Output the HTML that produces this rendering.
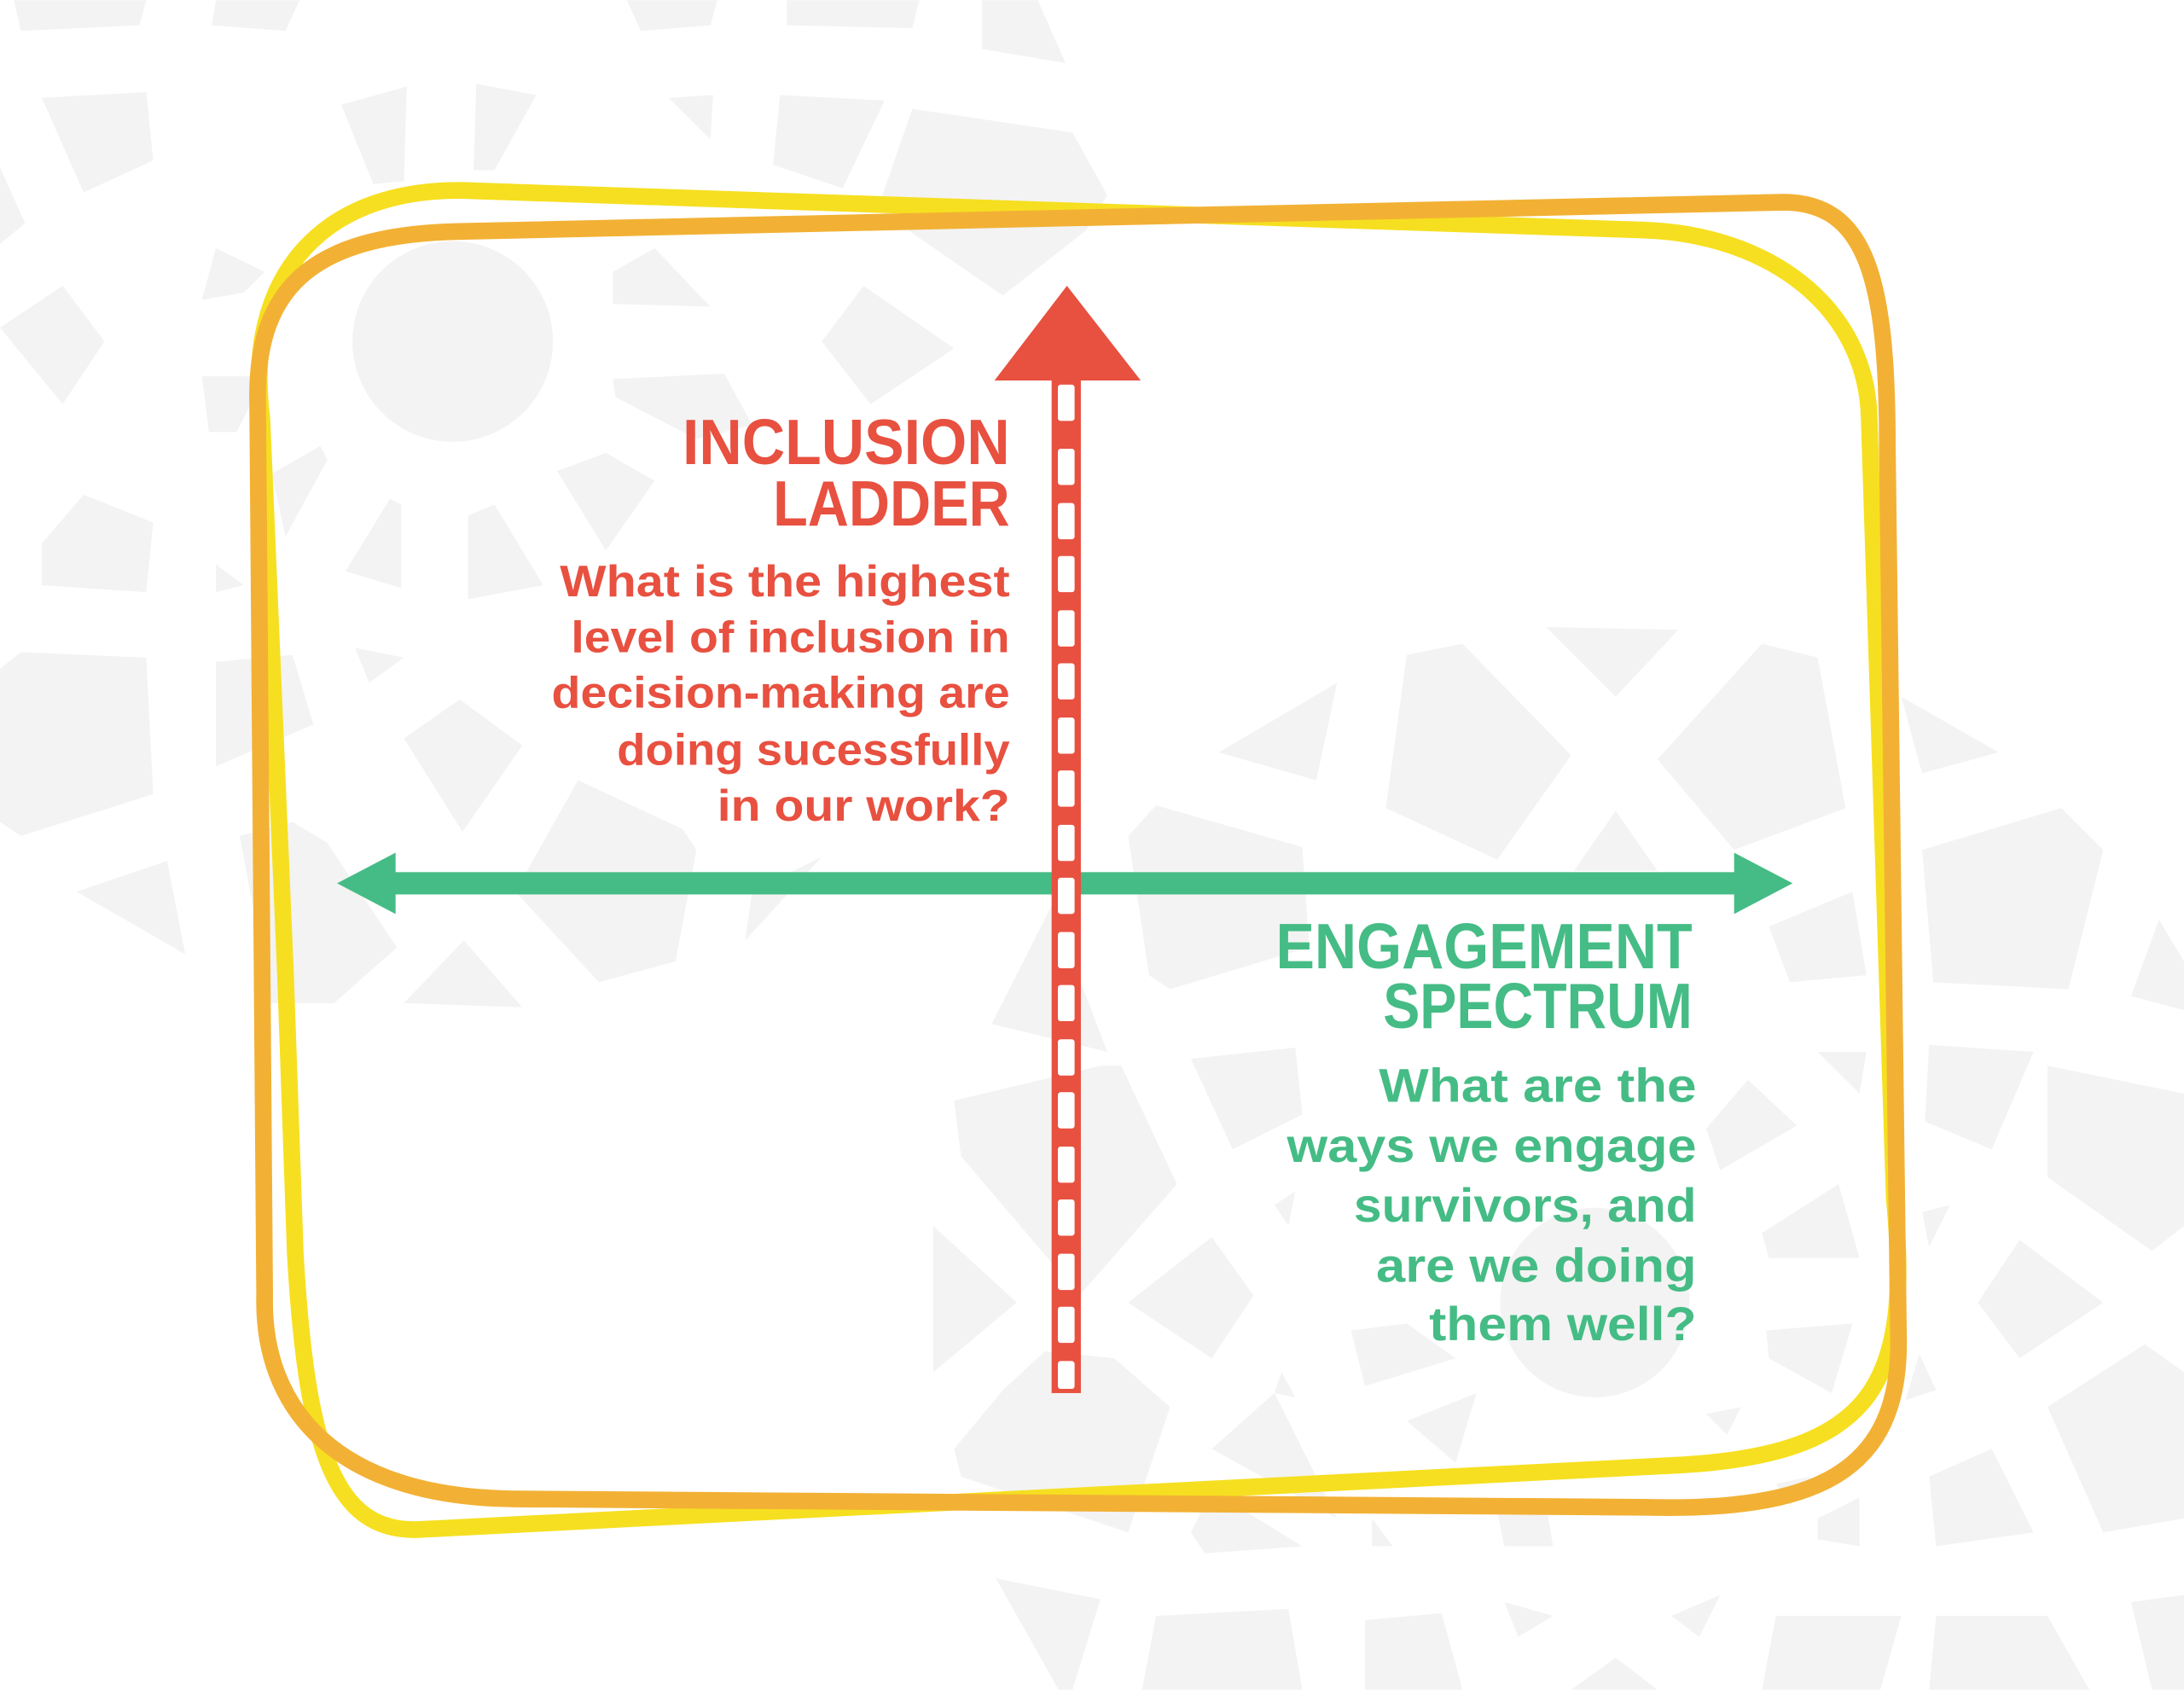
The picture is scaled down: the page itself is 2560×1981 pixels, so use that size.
<!DOCTYPE html>
<html><head><meta charset="utf-8"><style>html,body{margin:0;padding:0;background:#fff}svg{display:block}</style></head>
<body>
<svg width="2560" height="1981" viewBox="0 0 1568 1213" xmlns="http://www.w3.org/2000/svg">
<g fill="#f3f3f3">
<polygon points="10,0 105,0 100,18 15,22"/><polygon points="155,0 215,0 205,22 152,18"/>
<polygon points="30,70 105,66 110,115 60,138"/><polygon points="245,75 292,62 290,130 268,132"/>
<polygon points="342,60 385,68 355,122 340,122"/><polygon points="450,0 515,0 510,18 460,22"/>
<polygon points="565,0 660,0 655,20 565,18"/><polygon points="705,0 745,0 765,45 705,35"/>
<polygon points="560,68 635,72 605,135 555,118"/><polygon points="655,78 770,95 795,140 780,165 720,212 630,150"/>
<polygon points="480,70 512,68 510,100"/><polygon points="0,120 18,160 0,175"/>
<polygon points="155,178 190,195 175,210 145,215"/><polygon points="0,235 45,205 75,245 45,290"/>
<circle cx="325" cy="245" r="72"/><polygon points="440,195 470,178 510,220 440,218"/>
<polygon points="590,245 620,205 685,250 625,290"/><polygon points="145,270 190,270 170,310 150,310"/>
<polygon points="440,272 520,268 540,305 500,315 442,285"/><polygon points="400,338 435,325 470,345 435,395"/>
<polygon points="195,340 230,320 235,330 205,385"/><polygon points="30,390 60,355 110,375 105,425 30,420"/>
<polygon points="248,410 280,358 288,362 288,422"/><polygon points="336,370 355,362 390,420 336,430"/>
<polygon points="155,405 175,420 155,425"/><polygon points="0,480 15,468 105,472 110,570 15,600 0,590"/>
<polygon points="155,475 210,470 225,520 155,550"/><polygon points="255,465 290,472 265,490"/>
<polygon points="290,530 330,502 375,535 332,597"/><polygon points="415,560 490,595 500,610 485,690 430,705 370,640"/>
<polygon points="55,640 120,618 133,685"/><polygon points="210,590 235,605 285,680 240,720 195,720 172,600"/>
<polygon points="290,720 333,675 375,723"/><polygon points="540,640 590,615 535,675"/>
<polygon points="875,540 960,490 945,560"/><polygon points="1010,470 1050,462 1128,542 1075,617 995,580"/>
<polygon points="1110,450 1205,452 1160,500"/><polygon points="1190,545 1265,462 1305,472 1325,580 1245,610"/>
<polygon points="1365,500 1435,540 1380,555"/><polygon points="810,600 830,578 935,608 940,680 840,710 825,700"/>
<polygon points="1130,625 1160,582 1190,625"/><polygon points="1270,665 1330,640 1340,700 1285,705"/>
<polygon points="1380,610 1480,580 1510,610 1485,710 1388,705"/><polygon points="1530,715 1550,660 1568,690 1568,725"/>
<polygon points="712,735 755,650 795,755"/><polygon points="855,760 930,752 935,800 885,825"/>
<polygon points="685,790 790,765 805,765 845,850 775,930 690,830"/><polygon points="1305,755 1340,755 1335,785"/>
<polygon points="1385,750 1460,755 1430,825 1382,805"/><polygon points="1470,765 1568,785 1568,880 1545,898 1470,845"/>
<polygon points="1225,810 1255,775 1290,808 1235,840"/><polygon points="915,865 930,855 925,880"/>
<polygon points="1265,885 1320,850 1335,903 1270,903"/><polygon points="1380,870 1400,865 1385,895"/>
<polygon points="670,880 730,935 670,985"/><polygon points="810,935 870,888 900,930 870,975"/>
<polygon points="1420,935 1450,890 1510,935 1450,975"/><polygon points="970,955 1010,950 1045,975 980,995"/>
<circle cx="1145" cy="935" r="68"/><polygon points="1268,955 1330,950 1315,1000 1270,975"/>
<polygon points="1368,1005 1378,972 1390,998"/><polygon points="1470,1010 1540,965 1568,985 1568,1090 1510,1100"/>
<polygon points="920,985 930,1003 915,1000"/><polygon points="1225,1015 1250,1010 1240,1030"/>
<polygon points="685,1040 720,998 750,970 800,975 840,1010 810,1100 690,1060"/>
<polygon points="870,1040 915,1000 960,1090"/><polygon points="1010,1020 1060,1000 1045,1050"/>
<polygon points="1385,1060 1430,1040 1460,1100 1390,1110"/><polygon points="1275,1065 1300,1060 1285,1080"/>
<polygon points="855,1100 870,1070 935,1110 865,1115"/><polygon points="985,1090 1000,1110 985,1110"/>
<polygon points="1075,1085 1110,1080 1115,1110 1080,1110"/><polygon points="1305,1090 1335,1075 1335,1110 1305,1105"/>
<polygon points="715,1133 790,1148 770,1213 760,1213"/><polygon points="830,1160 925,1155 935,1213 820,1213"/>
<polygon points="980,1163 1035,1158 1050,1213 980,1213"/><polygon points="1080,1150 1115,1160 1090,1175"/>
<polygon points="1128,1213 1160,1190 1190,1213"/><polygon points="1200,1160 1235,1145 1220,1175"/>
<polygon points="1275,1160 1365,1160 1350,1213 1265,1213"/><polygon points="1390,1160 1470,1160 1500,1213 1385,1213"/>
<polygon points="1530,1150 1568,1145 1568,1213 1545,1213"/>
</g>
<!-- yellow loop -->
<path d="M188,300 C175,200 230,130 345,137 L1180,165 C1270,168 1340,220 1342,300 L1360,860 C1372,990 1350,1045 1200,1052 L300,1098 C240,1100 220,1040 212,900 L205,700 Z" fill="none" stroke="#F6DF20" stroke-width="12" stroke-linejoin="round"/>
<!-- orange loop -->
<path d="M330,166 L1280,145 C1340,145 1355,200 1355,320 L1363,960 C1365,1060 1300,1085 1180,1082 L370,1076 C240,1075 188,1010 190,930 L185,290 C183,210 220,168 330,166 Z" fill="none" stroke="#F2B135" stroke-width="12" stroke-linejoin="round"/>
<!-- green arrow -->
<rect x="280" y="626" width="970" height="16" fill="#45BC85"/>
<polygon points="242,634 284,612 284,656" fill="#45BC85"/>
<polygon points="1287,634 1245,612 1245,656" fill="#45BC85"/>
<!-- red ladder -->
<rect x="755" y="270" width="21" height="730" fill="#E85040"/>
<polygon points="766,205 714,273 819,273" fill="#E85040"/>
<g fill="#fff">
<rect x="759.5" y="276" width="12" height="26" rx="2"/>
<rect x="759.5" y="322" width="12" height="26" rx="2"/><rect x="759.5" y="361" width="12" height="26" rx="2"/>
<rect x="759.5" y="399" width="12" height="26" rx="2"/><rect x="759.5" y="438" width="12" height="26" rx="2"/>
<rect x="759.5" y="476" width="12" height="26" rx="2"/><rect x="759.5" y="515" width="12" height="26" rx="2"/>
<rect x="759.5" y="553" width="12" height="26" rx="2"/><rect x="759.5" y="592" width="12" height="26" rx="2"/>
<rect x="759.5" y="630" width="12" height="26" rx="2"/><rect x="759.5" y="669" width="12" height="26" rx="2"/>
<rect x="759.5" y="707" width="12" height="26" rx="2"/><rect x="759.5" y="746" width="12" height="26" rx="2"/>
<rect x="759.5" y="784" width="12" height="26" rx="2"/><rect x="759.5" y="823" width="12" height="26" rx="2"/>
<rect x="759.5" y="861" width="12" height="26" rx="2"/><rect x="759.5" y="900" width="12" height="26" rx="2"/>
<rect x="759.5" y="938" width="12" height="26" rx="2"/><rect x="759.5" y="977" width="12" height="20" rx="2"/>
</g>
<g font-family="Liberation Sans, sans-serif" font-weight="bold" text-anchor="end" fill="#E85040">
<text x="725" y="333" font-size="46" textLength="235" lengthAdjust="spacingAndGlyphs">INCLUSION</text>
<text x="725" y="377" font-size="46" textLength="170" lengthAdjust="spacingAndGlyphs">LADDER</text>
<g font-size="32">
<text x="725" y="428" textLength="323" lengthAdjust="spacingAndGlyphs">What is the highest</text>
<text x="725" y="468" textLength="315" lengthAdjust="spacingAndGlyphs">level of inclusion in</text>
<text x="725" y="508" textLength="329" lengthAdjust="spacingAndGlyphs">decision-making are</text>
<text x="725" y="549" textLength="282" lengthAdjust="spacingAndGlyphs">doing sucessfully</text>
<text x="725" y="589" textLength="210" lengthAdjust="spacingAndGlyphs">in our work?</text>
</g></g>
<g font-family="Liberation Sans, sans-serif" font-weight="bold" text-anchor="end" fill="#45BC85">
<text x="1215" y="695" font-size="46" textLength="299" lengthAdjust="spacingAndGlyphs">ENGAGEMENT</text>
<text x="1215" y="738" font-size="46" textLength="222" lengthAdjust="spacingAndGlyphs">SPECTRUM</text>
<g font-size="34">
<text x="1218" y="791" textLength="228" lengthAdjust="spacingAndGlyphs">What are the</text>
<text x="1218" y="834" textLength="294" lengthAdjust="spacingAndGlyphs">ways we engage</text>
<text x="1218" y="877" textLength="246" lengthAdjust="spacingAndGlyphs">survivors, and</text>
<text x="1218" y="920" textLength="230" lengthAdjust="spacingAndGlyphs">are we doing</text>
<text x="1218" y="962" textLength="192" lengthAdjust="spacingAndGlyphs">them well?</text>
</g></g>
</svg>
</body></html>
